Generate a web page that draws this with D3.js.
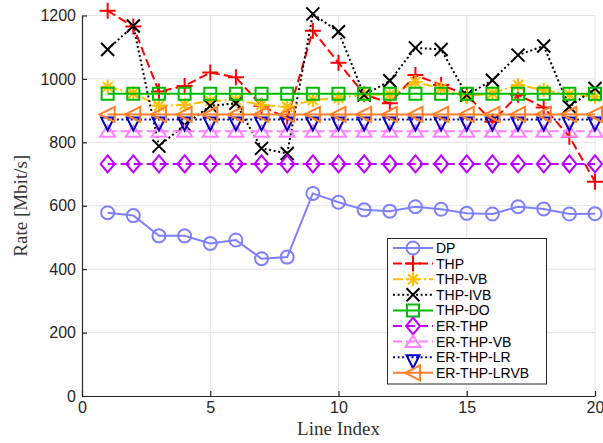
<!DOCTYPE html>
<html><head><meta charset="utf-8">
<script src="https://cdn.jsdelivr.net/npm/d3@7"></script>
<style>html,body{margin:0;padding:0;background:#fff;}svg{display:block;}</style>
</head><body>
<svg id="chart" width="603" height="443"></svg>
<script>
// ---- data ----
const lineIndex = d3.range(1, 21);
const seriesNames = ["DP","THP","THP-VB","THP-IVB","THP-DO","ER-THP","ER-THP-VB","ER-THP-LR","ER-THP-LRVB"];
const dp      = [578,569,505,505,481,492,433,438,639,611,587,583,597,589,576,574,597,590,574,575];
const thp     = [1215,1165,960,978,1020,1005,915,875,1152,1051,952,923,1012,981,950,865,950,910,818,676];
const thpVB   = [975,955,915,918,930,934,918,912,933,940,951,950,990,970,944,955,981,965,951,944];
const thpIVB  = [1093,1167,788,855,915,923,781,765,1205,1149,949,994,1098,1093,949,996,1075,1104,912,970];
const thpDO   = [953,953,953,953,953,953,953,953,953,953,953,953,953,953,953,953,953,953,953,953];
const erTHP   = [732,732,732,732,732,732,732,732,732,732,732,732,732,732,732,732,732,732,732,732];
const erTHPVB = [835,835,835,835,835,835,835,835,835,835,835,835,835,835,835,835,835,835,835,835];
const erTHPLR = [872,872,872,872,872,872,872,872,872,872,872,872,872,872,872,872,872,872,872,872];
const erTHPLRVB = [888,888,888,888,888,888,888,888,888,888,888,888,888,888,888,888,888,888,888,888];
const xTicks = [0,5,10,15,20];
const yTicks = [0,200,400,600,800,1000,1200];

const seriesValues = [dp, thp, thpVB, thpIVB, thpDO, erTHP, erTHPVB, erTHPLR, erTHPLRVB];
const styles = [
  {color:"#7f7fff", dash:null,        marker:"circle"},
  {color:"#ff0000", dash:"9,4",       marker:"plus"},
  {color:"#ffbf00", dash:"10,3,2,3",  marker:"star"},
  {color:"#000000", dash:"2,2.6",     marker:"x"},
  {color:"#00bb00", dash:null,        marker:"square"},
  {color:"#bf00ff", dash:"9,4",       marker:"diamond"},
  {color:"#ff80ff", dash:"9,4",       marker:"up"},
  {color:"#0000bf", dash:"2,2.6",     marker:"down"},
  {color:"#ff8028", dash:null,        marker:"left"}
];

const svg = d3.select("#chart");
const x = d3.scaleLinear().domain([0,20]).range([82,595]);
const y = d3.scaleLinear().domain([0,1200]).range([396,15.5]);

// grid
const grid = svg.append("g");
grid.selectAll(".gx").data(xTicks.slice(1)).join("line")
  .attr("x1",d=>x(d)).attr("x2",d=>x(d)).attr("y1",y(0)).attr("y2",y(1200))
  .attr("stroke","#e3e3e3").attr("stroke-width",1);
grid.selectAll(".gy").data(yTicks.slice(1)).join("line")
  .attr("y1",d=>y(d)).attr("y2",d=>y(d)).attr("x1",x(0)).attr("x2",x(20))
  .attr("stroke","#e3e3e3").attr("stroke-width",1);

// axes
const axisColor = "#262626";
const xAxis = svg.append("g").attr("transform",`translate(0,${y(0)})`)
  .call(d3.axisBottom(x).tickValues(xTicks).tickFormat(d3.format("d")).tickSizeInner(-5).tickSizeOuter(0).tickPadding(10));
const yAxis = svg.append("g").attr("transform",`translate(${x(0)},0)`)
  .call(d3.axisLeft(y).tickValues(yTicks).tickFormat(d3.format("d")).tickSizeInner(-5).tickSizeOuter(0).tickPadding(10));
[xAxis,yAxis].forEach(a=>{
  a.select(".domain").attr("stroke",axisColor).attr("stroke-width",1.2);
  a.selectAll(".tick line").attr("stroke",axisColor).attr("stroke-width",1.2);
  a.selectAll(".tick text").attr("fill",axisColor)
    .style("font-family","'Liberation Sans', Arial, sans-serif").style("font-size","16px");
});
xAxis.selectAll(".tick text").attr("dy","0.71em").attr("y",6);
yAxis.selectAll(".tick text").attr("x",-6);

// titles
svg.append("text").attr("x",x(10)).attr("y",435).attr("text-anchor","middle")
  .style("font-family","'Liberation Serif', 'DejaVu Serif', serif").style("font-size","19px")
  .attr("fill","#333").text("Line Index");
svg.append("text").attr("transform",`translate(27,${(y(0)+y(1200))/2}) rotate(-90)`)
  .attr("text-anchor","middle")
  .style("font-family","'Liberation Serif', 'DejaVu Serif', serif").style("font-size","19px")
  .attr("fill","#333").text("Rate [Mbit/s]");

// marker paths
function markerPath(type){
  switch(type){
    case "circle": return "M6.5,0A6.5,6.5 0 1,1 -6.5,0A6.5,6.5 0 1,1 6.5,0Z";
    case "plus": return "M-8,0H8M0,-8V8";
    case "star": return "M-7,0H7M0,-7V7M-5,-5L5,5M-5,5L5,-5";
    case "x": return "M-6.5,-6.5L6.5,6.5M-6.5,6.5L6.5,-6.5";
    case "square": return "M-6,-6H6V6H-6Z";
    case "diamond": return "M0,-8.5L7,0L0,8.5L-7,0Z";
    case "up": return "M0,-6L7.5,5.5H-7.5Z";
    case "down": return "M-6.5,-2H6.5L0,11Z";
    case "left": return "M-8,0L7,-7.5V7.5Z";
  }
}

const line = d3.line().x((d,i)=>x(lineIndex[i])).y(d=>y(d));
const plot = svg.append("g");
seriesValues.forEach((vals,k)=>{
  const st = styles[k];
  const g = plot.append("g");
  g.append("path").attr("d",line(vals)).attr("fill","none")
    .attr("stroke",st.color).attr("stroke-width",2)
    .attr("stroke-dasharray",st.dash);
  g.selectAll("path.m").data(vals).join("path").attr("class","m")
    .attr("transform",(d,i)=>`translate(${x(lineIndex[i])},${y(d)})`)
    .attr("d",markerPath(st.marker)).attr("fill","none")
    .attr("stroke",st.color).attr("stroke-width",2);
});

// legend
const lg = svg.append("g");
lg.append("rect").attr("x",387.5).attr("y",238.5).attr("width",159).attr("height",145.5)
  .attr("fill","#fff").attr("stroke","#262626").attr("stroke-width",1);
seriesNames.forEach((name,i)=>{
  const st = styles[i];
  const cy = 248 + i*15.6;
  lg.append("line").attr("x1",393).attr("x2",433).attr("y1",cy).attr("y2",cy)
    .attr("stroke",st.color).attr("stroke-width",2).attr("stroke-dasharray",st.dash);
  lg.append("path").attr("transform",`translate(413,${cy})`).attr("d",markerPath(st.marker))
    .attr("fill","none").attr("stroke",st.color).attr("stroke-width",2);
  lg.append("text").attr("x",436).attr("y",cy).attr("dy","0.36em")
    .style("font-family","'Liberation Sans', Arial, sans-serif").style("font-size","14px")
    .attr("fill","#000").text(name);
});
</script>
</body></html>
